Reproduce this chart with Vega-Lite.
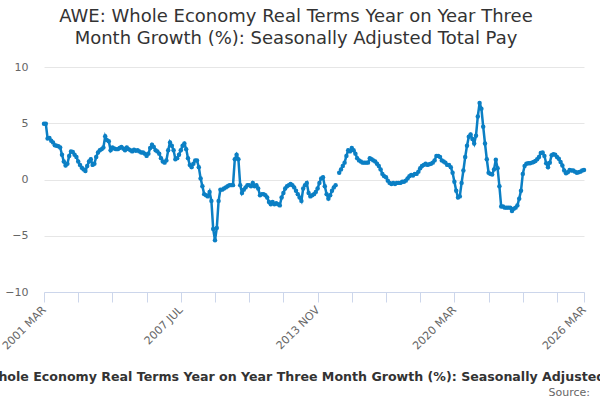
{
  "$schema": "https://vega.github.io/schema/vega-lite/v6.json",
  "autosize": "none",
  "width": 540,
  "height": 225,
  "padding": {"left": 44, "top": 67, "right": 16, "bottom": 108},
  "background": "white",
  "title": {
    "text": ["AWE: Whole Economy Real Terms Year on Year Three", "Month Growth (%): Seasonally Adjusted Total Pay"],
    "font": "DejaVu Sans",
    "fontSize": 18,
    "fontWeight": "normal",
    "color": "#333333",
    "anchor": "middle",
    "dx": -18,
    "offset": 13,
    "lineHeight": 22
  },
  "data": {"values": [
    {"m": "2001 MAR", "v": 4.95}, {"m": "2001 APR", "v": 4.95}, {"m": "2001 MAY", "v": 3.65}, {"m": "2001 JUN", "v": 3.7},
    {"m": "2001 JUL", "v": 3.45}, {"m": "2001 AUG", "v": 3.3}, {"m": "2001 SEP", "v": 3.05}, {"m": "2001 OCT", "v": 3.0},
    {"m": "2001 NOV", "v": 2.95}, {"m": "2001 DEC", "v": 2.85},
    {"m": "2002 JAN", "v": 2.2}, {"m": "2002 FEB", "v": 1.6}, {"m": "2002 MAR", "v": 1.25}, {"m": "2002 APR", "v": 1.4},
    {"m": "2002 MAY", "v": 2.1}, {"m": "2002 JUN", "v": 2.5}, {"m": "2002 JUL", "v": 2.45}, {"m": "2002 AUG", "v": 2.2},
    {"m": "2002 SEP", "v": 2.0}, {"m": "2002 OCT", "v": 1.6}, {"m": "2002 NOV", "v": 1.3}, {"m": "2002 DEC", "v": 1.05},
    {"m": "2003 JAN", "v": 0.9}, {"m": "2003 FEB", "v": 0.75}, {"m": "2003 MAR", "v": 1.2}, {"m": "2003 APR", "v": 1.6},
    {"m": "2003 MAY", "v": 1.8}, {"m": "2003 JUN", "v": 1.3}, {"m": "2003 JUL", "v": 1.4}, {"m": "2003 AUG", "v": 2.0},
    {"m": "2003 SEP", "v": 2.4}, {"m": "2003 OCT", "v": 2.6}, {"m": "2003 NOV", "v": 2.7}, {"m": "2003 DEC", "v": 2.85},
    {"m": "2004 JAN", "v": 3.85}, {"m": "2004 FEB", "v": 3.5}, {"m": "2004 MAR", "v": 3.4}, {"m": "2004 APR", "v": 2.6},
    {"m": "2004 MAY", "v": 2.85}, {"m": "2004 JUN", "v": 2.75}, {"m": "2004 JUL", "v": 2.7}, {"m": "2004 AUG", "v": 2.7},
    {"m": "2004 SEP", "v": 2.8}, {"m": "2004 OCT", "v": 2.9}, {"m": "2004 NOV", "v": 2.75}, {"m": "2004 DEC", "v": 2.6},
    {"m": "2005 JAN", "v": 2.85}, {"m": "2005 FEB", "v": 2.7}, {"m": "2005 MAR", "v": 2.6}, {"m": "2005 APR", "v": 2.5},
    {"m": "2005 MAY", "v": 2.65}, {"m": "2005 JUN", "v": 2.55}, {"m": "2005 JUL", "v": 2.6}, {"m": "2005 AUG", "v": 2.5},
    {"m": "2005 SEP", "v": 2.4}, {"m": "2005 OCT", "v": 2.4}, {"m": "2005 NOV", "v": 2.3}, {"m": "2005 DEC", "v": 2.1},
    {"m": "2006 JAN", "v": 2.3}, {"m": "2006 FEB", "v": 2.8}, {"m": "2006 MAR", "v": 3.1}, {"m": "2006 APR", "v": 2.9},
    {"m": "2006 MAY", "v": 2.6}, {"m": "2006 JUN", "v": 2.5}, {"m": "2006 JUL", "v": 2.3}, {"m": "2006 AUG", "v": 1.9},
    {"m": "2006 SEP", "v": 1.6}, {"m": "2006 OCT", "v": 1.5}, {"m": "2006 NOV", "v": 1.7}, {"m": "2006 DEC", "v": 2.6},
    {"m": "2007 JAN", "v": 3.3}, {"m": "2007 FEB", "v": 3.0}, {"m": "2007 MAR", "v": 2.6}, {"m": "2007 APR", "v": 1.8},
    {"m": "2007 MAY", "v": 1.9}, {"m": "2007 JUN", "v": 2.2}, {"m": "2007 JUL", "v": 2.6}, {"m": "2007 AUG", "v": 3.0},
    {"m": "2007 SEP", "v": 3.2}, {"m": "2007 OCT", "v": 2.7}, {"m": "2007 NOV", "v": 1.9}, {"m": "2007 DEC", "v": 1.3},
    {"m": "2008 JAN", "v": 1.1}, {"m": "2008 FEB", "v": 1.4}, {"m": "2008 MAR", "v": 1.7}, {"m": "2008 APR", "v": 1.7},
    {"m": "2008 MAY", "v": 1.1}, {"m": "2008 JUN", "v": 0.1}, {"m": "2008 JUL", "v": -0.6}, {"m": "2008 AUG", "v": -1.3},
    {"m": "2008 SEP", "v": -1.4}, {"m": "2008 OCT", "v": -1.5}, {"m": "2008 NOV", "v": -1.1}, {"m": "2008 DEC", "v": -1.9},
    {"m": "2009 JAN", "v": -4.4}, {"m": "2009 FEB", "v": -5.4}, {"m": "2009 MAR", "v": -4.3}, {"m": "2009 APR", "v": -1.9},
    {"m": "2009 MAY", "v": -0.9}, {"m": "2009 JUN", "v": -0.9}, {"m": "2009 JUL", "v": -0.8}, {"m": "2009 AUG", "v": -0.7},
    {"m": "2009 SEP", "v": -0.6}, {"m": "2009 OCT", "v": -0.5}, {"m": "2009 NOV", "v": -0.5}, {"m": "2009 DEC", "v": -0.5},
    {"m": "2010 JAN", "v": 1.8}, {"m": "2010 FEB", "v": 2.2}, {"m": "2010 MAR", "v": 1.8}, {"m": "2010 APR", "v": -0.5},
    {"m": "2010 MAY", "v": -1.2}, {"m": "2010 JUN", "v": -0.9}, {"m": "2010 JUL", "v": -0.7}, {"m": "2010 AUG", "v": -0.5},
    {"m": "2010 SEP", "v": -0.5}, {"m": "2010 OCT", "v": -0.6}, {"m": "2010 NOV", "v": -0.3}, {"m": "2010 DEC", "v": -0.6},
    {"m": "2011 JAN", "v": -0.5}, {"m": "2011 FEB", "v": -0.8}, {"m": "2011 MAR", "v": -1.4}, {"m": "2011 APR", "v": -1.3},
    {"m": "2011 MAY", "v": -1.3}, {"m": "2011 JUN", "v": -1.4}, {"m": "2011 JUL", "v": -1.6}, {"m": "2011 AUG", "v": -2.0},
    {"m": "2011 SEP", "v": -2.2}, {"m": "2011 OCT", "v": -2.0}, {"m": "2011 NOV", "v": -2.2}, {"m": "2011 DEC", "v": -2.1},
    {"m": "2012 JAN", "v": -2.2}, {"m": "2012 FEB", "v": -2.3}, {"m": "2012 MAR", "v": -1.6}, {"m": "2012 APR", "v": -1.2},
    {"m": "2012 MAY", "v": -0.8}, {"m": "2012 JUN", "v": -0.6}, {"m": "2012 JUL", "v": -0.5}, {"m": "2012 AUG", "v": -0.4},
    {"m": "2012 SEP", "v": -0.5}, {"m": "2012 OCT", "v": -0.7}, {"m": "2012 NOV", "v": -1.0}, {"m": "2012 DEC", "v": -1.3},
    {"m": "2013 JAN", "v": -1.6}, {"m": "2013 FEB", "v": -1.9}, {"m": "2013 MAR", "v": -0.8}, {"m": "2013 APR", "v": -0.5},
    {"m": "2013 MAY", "v": -0.3}, {"m": "2013 JUN", "v": -1.2}, {"m": "2013 JUL", "v": -1.5}, {"m": "2013 AUG", "v": -1.4},
    {"m": "2013 SEP", "v": -1.3}, {"m": "2013 OCT", "v": -1.1}, {"m": "2013 NOV", "v": -0.8}, {"m": "2013 DEC", "v": -0.3},
    {"m": "2014 JAN", "v": 0.1}, {"m": "2014 FEB", "v": 0.2}, {"m": "2014 MAR", "v": -0.6}, {"m": "2014 APR", "v": -1.3},
    {"m": "2014 MAY", "v": -1.7}, {"m": "2014 JUN", "v": -1.4}, {"m": "2014 JUL", "v": -1.0}, {"m": "2014 AUG", "v": -0.7},
    {"m": "2014 SEP", "v": -0.5}, {"m": "2014 OCT", "v": null}, {"m": "2014 NOV", "v": 0.6}, {"m": "2014 DEC", "v": 0.9},
    {"m": "2015 JAN", "v": 1.2}, {"m": "2015 FEB", "v": 1.5}, {"m": "2015 MAR", "v": 2.1}, {"m": "2015 APR", "v": 2.6},
    {"m": "2015 MAY", "v": 2.5}, {"m": "2015 JUN", "v": 2.8}, {"m": "2015 JUL", "v": 2.6}, {"m": "2015 AUG", "v": 2.3},
    {"m": "2015 SEP", "v": 1.9}, {"m": "2015 OCT", "v": 1.7}, {"m": "2015 NOV", "v": 1.6}, {"m": "2015 DEC", "v": 1.5},
    {"m": "2016 JAN", "v": 1.5}, {"m": "2016 FEB", "v": 1.5}, {"m": "2016 MAR", "v": 1.5}, {"m": "2016 APR", "v": 1.9},
    {"m": "2016 MAY", "v": 1.8}, {"m": "2016 JUN", "v": 1.7}, {"m": "2016 JUL", "v": 1.6}, {"m": "2016 AUG", "v": 1.4},
    {"m": "2016 SEP", "v": 1.2}, {"m": "2016 OCT", "v": 0.9}, {"m": "2016 NOV", "v": 0.5}, {"m": "2016 DEC", "v": 0.3},
    {"m": "2017 JAN", "v": 0.2}, {"m": "2017 FEB", "v": -0.1}, {"m": "2017 MAR", "v": -0.3}, {"m": "2017 APR", "v": -0.4},
    {"m": "2017 MAY", "v": -0.3}, {"m": "2017 JUN", "v": -0.4}, {"m": "2017 JUL", "v": -0.3}, {"m": "2017 AUG", "v": -0.3},
    {"m": "2017 SEP", "v": -0.3}, {"m": "2017 OCT", "v": -0.2}, {"m": "2017 NOV", "v": -0.2}, {"m": "2017 DEC", "v": -0.1},
    {"m": "2018 JAN", "v": 0.1}, {"m": "2018 FEB", "v": 0.3}, {"m": "2018 MAR", "v": 0.4}, {"m": "2018 APR", "v": 0.35},
    {"m": "2018 MAY", "v": 0.5}, {"m": "2018 JUN", "v": 0.5}, {"m": "2018 JUL", "v": 0.7}, {"m": "2018 AUG", "v": 1.0},
    {"m": "2018 SEP", "v": 1.2}, {"m": "2018 OCT", "v": 1.3}, {"m": "2018 NOV", "v": 1.4}, {"m": "2018 DEC", "v": 1.3},
    {"m": "2019 JAN", "v": 1.35}, {"m": "2019 FEB", "v": 1.4}, {"m": "2019 MAR", "v": 1.5}, {"m": "2019 APR", "v": 1.7},
    {"m": "2019 MAY", "v": 2.1}, {"m": "2019 JUN", "v": 2.1}, {"m": "2019 JUL", "v": 2.0}, {"m": "2019 AUG", "v": 1.7},
    {"m": "2019 SEP", "v": 1.6}, {"m": "2019 OCT", "v": 1.5}, {"m": "2019 NOV", "v": 1.3}, {"m": "2019 DEC", "v": 1.3},
    {"m": "2020 JAN", "v": 1.1}, {"m": "2020 FEB", "v": 0.6}, {"m": "2020 MAR", "v": -0.2}, {"m": "2020 APR", "v": -1.0},
    {"m": "2020 MAY", "v": -1.6}, {"m": "2020 JUN", "v": -1.5}, {"m": "2020 JUL", "v": -0.3}, {"m": "2020 AUG", "v": 0.8},
    {"m": "2020 SEP", "v": 2.0}, {"m": "2020 OCT", "v": 3.0}, {"m": "2020 NOV", "v": 3.8}, {"m": "2020 DEC", "v": 4.0},
    {"m": "2021 JAN", "v": 3.6}, {"m": "2021 FEB", "v": 3.2}, {"m": "2021 MAR", "v": 3.9}, {"m": "2021 APR", "v": 5.6},
    {"m": "2021 MAY", "v": 6.8}, {"m": "2021 JUN", "v": 6.3}, {"m": "2021 JUL", "v": 4.7}, {"m": "2021 AUG", "v": 3.2},
    {"m": "2021 SEP", "v": 1.8}, {"m": "2021 OCT", "v": 0.6}, {"m": "2021 NOV", "v": 0.5}, {"m": "2021 DEC", "v": 0.45},
    {"m": "2022 JAN", "v": 0.9}, {"m": "2022 FEB", "v": 1.75}, {"m": "2022 MAR", "v": 1.0}, {"m": "2022 APR", "v": -0.6},
    {"m": "2022 MAY", "v": -2.4}, {"m": "2022 JUN", "v": -2.4}, {"m": "2022 JUL", "v": -2.5}, {"m": "2022 AUG", "v": -2.5},
    {"m": "2022 SEP", "v": -2.5}, {"m": "2022 OCT", "v": -2.5}, {"m": "2022 NOV", "v": -2.8}, {"m": "2022 DEC", "v": -2.6},
    {"m": "2023 JAN", "v": -2.5}, {"m": "2023 FEB", "v": -2.3}, {"m": "2023 MAR", "v": -1.7}, {"m": "2023 APR", "v": -1.0},
    {"m": "2023 MAY", "v": 0.5}, {"m": "2023 JUN", "v": 1.2}, {"m": "2023 JUL", "v": 1.4}, {"m": "2023 AUG", "v": 1.45},
    {"m": "2023 SEP", "v": 1.45}, {"m": "2023 OCT", "v": 1.5}, {"m": "2023 NOV", "v": 1.55}, {"m": "2023 DEC", "v": 1.65},
    {"m": "2024 JAN", "v": 1.8}, {"m": "2024 FEB", "v": 2.0}, {"m": "2024 MAR", "v": 2.35}, {"m": "2024 APR", "v": 2.4},
    {"m": "2024 MAY", "v": 2.1}, {"m": "2024 JUN", "v": 1.45}, {"m": "2024 JUL", "v": 1.1}, {"m": "2024 AUG", "v": 1.5},
    {"m": "2024 SEP", "v": 2.15}, {"m": "2024 OCT", "v": 2.25}, {"m": "2024 NOV", "v": 2.2}, {"m": "2024 DEC", "v": 2.0},
    {"m": "2025 JAN", "v": 1.85}, {"m": "2025 FEB", "v": 1.55}, {"m": "2025 MAR", "v": 1.25}, {"m": "2025 APR", "v": 0.8},
    {"m": "2025 MAY", "v": 0.55}, {"m": "2025 JUN", "v": 0.65}, {"m": "2025 JUL", "v": 0.85}, {"m": "2025 AUG", "v": 0.8},
    {"m": "2025 SEP", "v": 0.8}, {"m": "2025 OCT", "v": 0.7}, {"m": "2025 NOV", "v": 0.6}, {"m": "2025 DEC", "v": 0.65},
    {"m": "2026 JAN", "v": 0.7}, {"m": "2026 FEB", "v": 0.8}, {"m": "2026 MAR", "v": 0.85}
  ]},
  "layer": [
    {
      "mark": {
        "type": "line",
        "color": "#0b7fc4",
        "strokeWidth": 2.5,
        "point": {"filled": true, "size": 20, "color": "#0b7fc4"}
      },
      "encoding": {
        "x": {
          "field": "m",
          "type": "ordinal",
          "sort": null,
          "scale": {"type": "point", "padding": 0},
          "axis": {
            "title": "AWE: Whole Economy Real Terms Year on Year Three Month Growth (%): Seasonally Adjusted Total Pay",
            "titleFont": "DejaVu Sans",
            "titleFontSize": 12.6,
            "titleFontWeight": "bold",
            "titleColor": "#333333",
            "titleLimit": 2000,
            "titlePadding": 19,
            "titleX": 264,
            "titleAlign": "center",
            "values": ["2001 MAR", "2002 OCT", "2004 MAY", "2005 DEC", "2007 JUL", "2009 FEB", "2010 SEP", "2012 APR", "2013 NOV", "2015 JUN", "2017 JAN", "2018 AUG", "2020 MAR", "2021 OCT", "2023 MAY", "2024 DEC", "2026 MAR"],
            "labelExpr": "indexof(['2001 MAR', '2007 JUL', '2013 NOV', '2020 MAR', '2026 MAR'], datum.label) >= 0 ? datum.label : ''",
            "labelAngle": -45,
            "labelBaseline": "middle",
            "labelPadding": 6,
            "labelFont": "DejaVu Sans",
            "labelFontSize": 11,
            "labelColor": "#666666",
            "labelOverlap": false,
            "tickColor": "#ccd6eb",
            "tickSize": 10,
            "domainColor": "#ccd6eb",
            "grid": false
          }
        },
        "y": {
          "field": "v",
          "type": "quantitative",
          "scale": {"domain": [-10, 10], "nice": false},
          "axis": {
            "title": null,
            "values": [-10, -5, 0, 5, 10],
            "domain": false,
            "ticks": false,
            "labelPadding": 16,
            "labelFont": "DejaVu Sans",
            "labelFontSize": 11,
            "labelColor": "#666666",
            "gridColor": "#e6e6e6"
          }
        }
      }
    },
    {
      "data": {"values": [{"t": "Source:"}]},
      "mark": {
        "type": "text",
        "align": "right",
        "baseline": "middle",
        "dx": 6,
        "dy": 101,
        "font": "DejaVu Sans",
        "fontSize": 11,
        "color": "#666666"
      },
      "encoding": {
        "x": {"value": "width"},
        "y": {"datum": -10, "type": "quantitative"},
        "text": {"field": "t"}
      }
    }
  ],
  "config": {"view": {"stroke": null}}
}
